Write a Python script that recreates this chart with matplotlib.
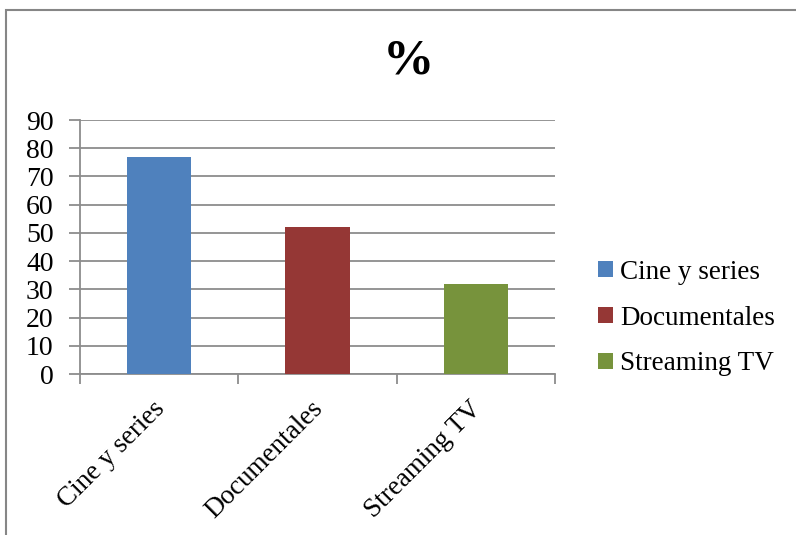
import matplotlib.pyplot as plt
import matplotlib.transforms as mtransforms
from matplotlib.patches import Rectangle, Patch

categories = ["Cine y series", "Documentales", "Streaming TV"]
values = [77, 52, 32]
colors = ["#4f81bd", "#953735", "#77933c"]
title = "%"

plt.rcParams['font.family'] = ['Liberation Serif', 'DejaVu Serif']

fig = plt.figure(figsize=(7.96, 5.35), dpi=100)

# outer chart frame (Excel style)
fig.patches.append(Rectangle((6 / 796, -0.05), 1.0, 1.05 - 10 / 535, transform=fig.transFigure,
                             fill=False, edgecolor="#868686", linewidth=1.5))

ax = fig.add_axes([80 / 796, 1 - 374 / 535, 475 / 796, 254 / 535])
x = range(len(categories))
ax.bar(x, values, width=0.405, color=colors, zorder=3)

ax.set_xlim(-0.5, 2.5)
ax.set_ylim(0, 90)
ax.set_yticks(range(0, 91, 10))
ax.yaxis.grid(True, color="#8c8c8c", linewidth=1.3, zorder=0)
ax.set_axisbelow(True)

ax.set_xticks([-0.5, 0.5, 1.5, 2.5], minor=False)
ax.set_xticklabels([])
ax.set_xticks(list(x), minor=True)
ax.set_xticklabels(categories, minor=True, rotation=45, ha="right", va="top",
                   rotation_mode="anchor", fontsize=19.5)
ax.tick_params(axis="x", which="minor", length=0, pad=16)
ax.tick_params(axis="x", which="major", length=7, color="#8c8c8c", width=1.3)
ax.tick_params(axis="y", length=8, color="#8c8c8c", width=1.3, labelsize=20, pad=11)

# nudge category labels a little to the left
shift = mtransforms.ScaledTranslation(-7 / 100, 0, fig.dpi_scale_trans)
for lbl in ax.get_xticklabels(minor=True):
    lbl.set_transform(lbl.get_transform() + shift)

for side in ["top", "right"]:
    ax.spines[side].set_visible(False)
for side in ["left", "bottom"]:
    ax.spines[side].set_color("#8c8c8c")
    ax.spines[side].set_linewidth(1.3)

fig.text(408 / 796, 1 - 61 / 535, title, fontsize=37, fontweight="bold", ha="center", va="center")

handles = [Patch(facecolor=c, label=l) for c, l in zip(colors, categories)]
fig.legend(handles=handles, loc="center left", bbox_to_anchor=(574 / 796, 1 - 318 / 535),
           frameon=False, fontsize=19.5, handlelength=0.55, handleheight=0.55,
           handletextpad=0.25, labelspacing=0.77)

fig.savefig("out.png", dpi=100)
